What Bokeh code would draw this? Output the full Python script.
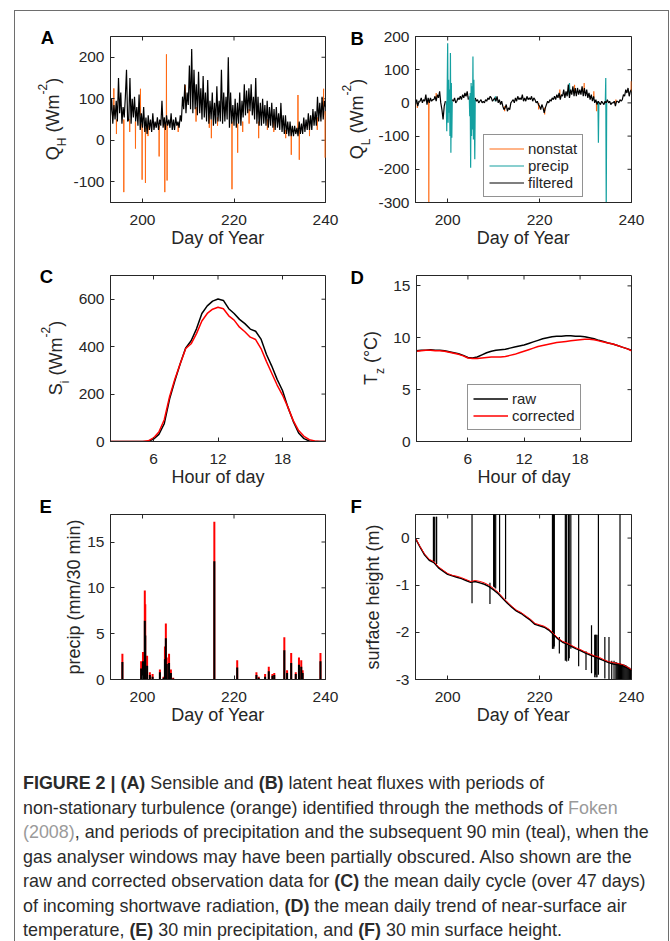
import numpy as np
from bokeh.plotting import figure
from bokeh.models import Legend, LegendItem, FixedTicker, Range1d, Div, Spacer
from bokeh.layouts import row, column
from bokeh.embed import file_html
from bokeh.resources import INLINE

FONT = "Liberation Sans"
INK = "#262626"
ORANGE = "#ff6a13"
TEAL = "#14a0a0"
RED = "#ff0000"
nan = float("nan")

# ---------------- data ----------------
# (A) sensible heat flux, filtered (W m-2), 6-hourly from day 193.00
qh_filtered = [
    60, 100, 40, 85,   50, 95, 45, 150,   65, 115, 40, 80,   55, 105, 170, 45,
    50, 150, 40, 100,  55, 105, 45, 80,   35, 110, 25, 65,   30, 80, 20, 55,
    15, 60, 25, 50,    20, 65, 25, 45,    30, 55, 25, 50,    35, 95, 30, 55,
    25, 60, 35, 50,    30, 65, 25, 50,    25, 55, 35, 45,    30, 60, 45, 105,
    75, 135, 65, 115,  85, 180, 75, 220,  65, 170, 75, 135,  60, 165, 65, 125,
    50, 155, 55, 115,  45, 145, 40, 95,   50, 115, 35, 90,   40, 130, 45, 95,
    45, 170, 40, 115,  45, 105, 50, 200,  30, 115, 40, 85,   35, 100, 30, 90,
    40, 115, 35, 95,   55, 135, 60, 120,  65, 125, 70, 135,  60, 105, 50, 150,
    40, 105, 35, 90,   35, 100, 40, 85,   35, 95, 30, 80,    35, 90, 30, 75,
    25, 80, 30, 65,    25, 90, 20, 60,    15, 60, 15, 45,    10, 45, 10, 35,
    10, 35, 15, 30,    10, 45, 15, 40,    15, 55, 20, 50,    25, 65, 25, 60,
    25, 75, 35, 70,    35, 105, 45, 90,   45, 105, 50, 95,   80]
# (A) non-stationary samples (orange spikes)
qh_nonstat_day = [193.73, 195.91, 198.46, 199.55, 199.91, 200.64, 203.63, 204.87,
                  205.23, 205.37, 209.38, 215.05, 219.56, 220.80, 225.39, 232.52,
                  233.98, 234.27, 239.58, 239.94, 194.3, 197.2, 201.2, 207.8,
                  211.7, 214.6, 216.4, 221.9, 223.3, 227.3, 228.7, 231.3, 236.5, 238.2]
qh_nonstat_val = [125, -125, -20, 124, -95, -103, -39, -125,
                  207, -97, 133, 5, -118, -30, 5, -35,
                  109, -47, 124, -42, 15, 20, 10, 20,
                  45, 30, 35, 20, 40, 25, 20, 5, 10, 25]
qh_nonstat_base = [60, 50, 45, 60, 40, 30, 35, 40,
                   50, 40, 90, 50, 45, 40, 45, 20,
                   20, 25, 60, 70, 50, 50, 35, 40,
                   80, 60, 55, 45, 75, 50, 45, 25, 40, 55]

# (B) latent heat flux, filtered (W m-2), 6-hourly from day 193.00
ql_filtered = [
    -5, 10, -10, 5,    5, 15, 0, 10,      5, 25, -5, 15,     0, 15, 5, 10,
    10, 20, 5, 25,     15, 35, 0, -20,    -50, -10, 5, nan,  nan, nan, nan, nan,
    10, 5, 15, 0,      5, 15, 10, 20,     10, 25, 15, 30,    20, 35, 10, nan,
    nan, nan, nan, nan, 15, 5, 10, 0,     5, 10, 0, 5,       0, 10, 5, 15,
    10, 20, 15, 5,     10, 15, 5, 20,     0, 10, -5, 5,      -10, -20, -15, -5,
    -25, -15, -20, 0,  5, 10, 0, 15,      5, 20, 10, 15,     10, 25, 5, 15,
    5, 20, 10, 15,     10, 20, 5, 15,     10, 0, 5, -5,      -10, -20, -5, -15,
    -30, -15, -5, 5,   0, 10, 5, 15,      10, 20, 10, 25,    15, 30, 10, 25,
    20, 40, 15, 35,    20, 55, 15, 40,    25, 50, 20, 45,    20, 45, 25, 40,
    25, 50, 20, 45,    20, 40, 15, 30,    10, 25, 5, 20,     0, 10, -5, 5,
    0, -5, 5, 0,       -5, 5, 0, 10,      0, 5, -5, 0,       0, 5, -10, 5,
    5, 0, 10, 5,       10, 25, 20, 40,    30, 45, 20, 35,    40]
ql_precip_day = [199.7, 199.8, 199.9, 200.0, 200.1, 200.2, 200.3, 200.4, 200.5, 200.6,
                 200.7, 200.8, 200.9, 201.0, nan,
                 204.7, 204.8, 204.9, 205.0, 205.1, 205.2, 205.3, 205.4, 205.5, 205.6,
                 205.7, 205.8, 205.9, 206.0, nan,
                 210.3, 210.4, 210.5, nan,
                 226.4, 226.5, 226.6, nan,
                 232.7, 232.8, 232.9, nan,
                 234.3, 234.4, 234.5, 234.6]
ql_precip_val = [5, -85, 40, 180, -60, 70, -30, 40, -100, 150,
                 -150, 60, -105, 5, nan,
                 20, -40, 30, -195, 60, -100, 50, -80, 140, -110,
                 70, -40, -170, 10, nan,
                 5, 20, 5, nan,
                 25, 60, 30, nan,
                 5, -120, 0, nan,
                 0, 75, -320, 0]
ql_nonstat_day = [193.4, 195.9, 197.5, 212.4, 219.8, 221.1, 224.4, 227.6, 229.7,
                  231.8, 232.4, 236.6, 239.95]
ql_nonstat_val = [-15, -320, 30, -25, -20, -35, 40, 55, 60, 35, -25, 10, 65]
ql_nonstat_base = [0, 10, 10, -10, 0, -15, 15, 30, 30, 15, 0, 0, 35]

# (C) mean daily cycle of incoming shortwave (W m-2), half-hourly 02:00-22:00
sw_raw = [0, 0, 0, 0, 0, 0, 0, 0, 10, 30, 75, 180, 258, 330, 395, 425, 475, 540,
          572, 592, 601, 595, 560, 540, 515, 497, 474, 465, 432, 368, 318, 262,
          215, 145, 85, 36, 12, 2, 0, 0, 0]
sw_corr = [0, 0, 0, 0, 0, 0, 0, 3, 15, 40, 92, 190, 265, 330, 392, 412, 455, 508,
           540, 558, 566, 560, 530, 512, 482, 463, 440, 430, 392, 338, 288, 238,
           196, 145, 88, 46, 22, 8, 2, 0, 0]

# (D) mean daily trend of near-surface air temperature (deg C), 00:30-23:30
t_raw = [8.75, 8.8, 8.8, 8.85, 8.8, 8.8, 8.75, 8.65, 8.55, 8.45, 8.3, 8.1, 8.05,
         8.15, 8.35, 8.55, 8.7, 8.8, 8.85, 8.9, 9.0, 9.1, 9.2, 9.3, 9.45, 9.6,
         9.75, 9.9, 10.0, 10.1, 10.15, 10.15, 10.2, 10.2, 10.15, 10.15, 10.1,
         10.0, 9.9, 9.75, 9.65, 9.5, 9.4, 9.25, 9.1, 8.95, 8.8]
t_corr = [8.7, 8.75, 8.8, 8.8, 8.75, 8.75, 8.7, 8.6, 8.5, 8.4, 8.25, 8.05, 8.0,
          8.0, 8.05, 8.1, 8.15, 8.15, 8.15, 8.2, 8.3, 8.4, 8.55, 8.7, 8.85, 9.0,
          9.15, 9.25, 9.35, 9.45, 9.55, 9.6, 9.65, 9.7, 9.75, 9.8, 9.85, 9.85,
          9.8, 9.7, 9.6, 9.5, 9.4, 9.25, 9.1, 8.95, 8.75]

# (E) 30 min precipitation (mm / 30 min)
precip_day = [195.6, 199.7, 200.1, 200.5, 200.6, 201.0, 201.6, 202.2, 203.8, 204.6,
              204.9, 205.1, 205.3, 205.8, 206.2, 206.7, 215.7, 220.7, 224.9, 225.4,
              226.8, 227.6, 228.4, 228.8, 231.0, 231.6, 232.5, 233.5, 234.2, 234.7,
              235.0, 238.9]
precip_corr = [2.8, 2.0, 3.0, 9.7, 8.2, 2.6, 0.8, 0.6, 1.1, 0.3, 3.6, 6.1, 2.4, 2.8,
               1.1, 0.2, 17.2, 2.1, 0.8, 0.3, 0.6, 1.4, 0.6, 0.7, 4.6, 1.0, 2.9, 0.8,
               2.4, 2.1, 1.0, 2.9]
precip_raw = [1.9, 1.2, 2.0, 6.4, 4.8, 1.5, 0.5, 0.3, 0.8, 0.2, 2.2, 4.5, 1.7, 1.8,
              0.7, 0.1, 12.9, 1.3, 0.5, 0.2, 0.3, 0.9, 0.4, 0.5, 3.2, 0.7, 1.8, 0.6,
              1.6, 1.4, 0.7, 2.0]

# (F) 30 min surface height (m), daily samples of the series
sfc_day = list(range(193, 241))
sfc_corr = [0.0, -0.18, -0.34, -0.45, -0.5, -0.61, -0.68, -0.75, -0.79, -0.81, -0.84,
            -0.88, -0.92, -0.9, -0.92, -0.95, -1.0, -1.07, -1.15, -1.26, -1.36, -1.45,
            -1.53, -1.58, -1.65, -1.72, -1.81, -1.84, -1.87, -1.93, -2.02, -2.12, -2.19,
            -2.23, -2.28, -2.33, -2.37, -2.42, -2.46, -2.5, -2.53, -2.58, -2.62, -2.64,
            -2.66, -2.68, -2.73, -2.79]
sfc_raw = [-0.01, -0.19, -0.36, -0.47, -0.52, -0.63, -0.7, -0.77, -0.8, -0.83, -0.86,
           -0.9, -0.94, -0.92, -0.95, -0.98, -1.03, -1.1, -1.18, -1.28, -1.38, -1.47,
           -1.55, -1.6, -1.67, -1.74, -1.83, -1.86, -1.89, -1.95, -2.04, -2.14, -2.21,
           -2.25, -2.3, -2.35, -2.39, -2.44, -2.48, -2.52, -2.56, -2.6, -2.64, -2.67,
           -2.69, -2.71, -2.75, -2.81]
# raw sensor spikes: day, upper end, lower end
sfc_spike_day = [196.9, 197.1, 197.5, 197.6, 205.3, 209.2, 210.0, 210.2, 210.45, 211.3,
                 212.6, 222.8, 222.9, 223.0, 223.1, 223.2, 224.3, 225.6, 225.75, 225.9,
                 226.3, 226.45, 226.8, 228.5, 230.1, 231.3, 232.0, 232.15, 232.3, 232.5,
                 232.8, 234.2, 235.1, 235.7, 236.2, 236.6, 236.8, 237.0, 237.2, 237.4,
                 237.5, 237.6, 237.8, 238.0, 238.2, 238.4, 238.6, 238.8, 239.0, 239.2,
                 239.4, 239.6, 239.8]
sfc_spike_top = [0.45, 0.45, 0.45, 0.45, 0.6, -0.95, 0.6, 0.6, 0.6, 0.6,
                 0.6, 0.6, 0.6, 0.6, 0.6, 0.6, -2.1, 0.6, 0.6, 0.6,
                 0.6, 0.6, 0.6, 0.6, -2.4, -1.85, -2.05, -2.05, -2.05, -2.05,
                 0.6, -2.1, -2.1, -2.6, -2.6, -2.63, -2.64, -2.65, -2.65, -2.66,
                 0.6, -2.66, -2.67, -2.67, -2.68, -2.68, -2.69, -2.7, -2.72, -2.73,
                 -2.74, -2.75, -2.77]
sfc_spike_bot = [-0.5, -0.5, -0.52, -0.55, -1.38, -1.4, -1.03, -1.05, -1.07, -1.15,
                 -1.3, -2.35, -2.35, -2.3, -2.35, -2.3, -2.45, -2.6, -2.58, -2.62,
                 -2.6, -2.55, -2.35, -2.72, -2.8, -2.87, -2.95, -2.9, -2.95, -2.95,
                 -2.9, -2.98, -3.05, -3.05, -3.05, -3.05, -3.05, -3.05, -3.05, -3.05,
                 -2.7, -3.05, -3.05, -3.05, -3.05, -3.05, -3.05, -3.05, -3.05, -3.05,
                 -3.05, -3.05, -3.05]

# ---------------- helpers ----------------
BASE = 0.8465  # baseline below the top of a 1em line box (Liberation Sans)
# rows of the figure grid: (top on page, height, top border, bottom border, frame height)
ROWS = [(11, 241, 25, 50, 166), (252, 239, 23, 50, 166), (491, 238, 23, 50, 165)]


class Strip:
    """HTML strip holding the panel letter and the (rotated) y-axis title."""

    def __init__(self, left, width, r):
        self.left, self.top, self.h, self.w = left, ROWS[r][0], ROWS[r][1], width
        self.parts = []

    def letter(self, px, base_py, t):
        x = px - self.left
        y = base_py - BASE * 18.5 - self.top
        self.parts.append(
            f'<div style="position:absolute;left:{x:.1f}px;top:{y:.1f}px;white-space:nowrap;'
            f'font:bold 18.5px/1 \'{FONT}\',Arial,sans-serif;color:#000">{t}</div>')

    def ylabel(self, html, base_px, center_py):
        x = base_px - BASE * 18 - self.left
        y = center_py - self.top
        self.parts.append(
            f'<div style="position:absolute;left:{x:.1f}px;top:{y:.1f}px;white-space:nowrap;'
            f'transform-origin:0 0;transform:rotate(-90deg) translateX(-50%);'
            f'font:18px/1 \'{FONT}\',Arial,sans-serif;color:{INK}">{html}</div>')

    def div(self):
        inner = "".join(self.parts)
        return Div(text=f'<div style="position:relative;width:{self.w}px;height:{self.h}px;'
                        f'overflow:visible">{inner}</div>',
                   width=self.w, height=self.h, margin=(0, 0, 0, 0))


def sub(t):
    return f'<span style="font-size:12px;position:relative;top:7px">{t}</span>'


def sup(t):
    return f'<span style="font-size:12px;position:relative;top:-11.7px">{t}</span>'


def make_fig(xr, yr, xt, yt, left, right, fw, r, xlabel):
    _, _, top, bottom, fh = ROWS[r]
    p = figure(frame_width=fw, frame_height=fh,
               x_range=Range1d(*xr), y_range=Range1d(*yr),
               min_border_left=left, min_border_right=right,
               min_border_top=top, min_border_bottom=bottom,
               toolbar_location=None, output_backend="svg", title=None)
    p.grid.visible = False
    p.outline_line_color = INK
    p.background_fill_color = "white"
    p.border_fill_alpha = 0
    xb = p.below[0]
    yl = p.left[0]
    xb.ticker = FixedTicker(ticks=xt)
    yl.ticker = FixedTicker(ticks=yt)
    yl.major_label_overrides = {t: f"{t:g}" for t in yt}
    for ax in (xb, yl):
        ax.axis_line_color = INK
        ax.major_tick_line_color = INK
        ax.major_tick_in = 4
        ax.major_tick_out = 0
        ax.minor_tick_line_color = None
        ax.major_label_text_font = FONT
        ax.major_label_text_font_size = "15.5px"
        ax.major_label_text_color = INK
    xb.major_label_standoff = 12
    yl.major_label_standoff = 6
    xb.axis_label = xlabel
    xb.axis_label_text_font = FONT
    xb.axis_label_text_font_size = "18px"
    xb.axis_label_text_font_style = "normal"
    xb.axis_label_text_color = INK
    xb.axis_label_standoff = 0
    # mirrored inward ticks on the top and right edges of the box
    dy = 4 * (yr[1] - yr[0]) / fh
    dx = 4 * (xr[1] - xr[0]) / fw
    p.segment(xt, [yr[1]] * len(xt), xt, [yr[1] - dy] * len(xt), line_color=INK, line_width=1)
    p.segment([xr[1]] * len(yt), yt, [xr[1] - dx] * len(yt), yt, line_color=INK, line_width=1)
    return p


def spikes(days, vals, bases, half=0.03):
    xs = [[d - half, d, d + half] for d in days]
    ys = [[b, v, b] for v, b in zip(vals, bases)]
    return xs, ys


def style_legend(leg):
    leg.label_text_font = FONT
    leg.label_text_font_size = "15px"
    leg.label_text_color = INK
    leg.glyph_width = 35
    leg.glyph_height = 17
    leg.label_height = 17
    leg.label_standoff = 4
    leg.spacing = 0
    leg.padding = 5
    leg.margin = 0
    leg.border_line_color = INK
    leg.border_line_width = 1
    leg.background_fill_alpha = 1


# ---------------- row 1: (A) and (B) ----------------
sA = Strip(15, 53, 0)
sA.letter(40.7, 45, "A")
sA.ylabel(f"Q{sub('H')} (Wm{sup('-2')})", 59.6, 119)

pA = make_fig((193, 240), (-150, 250), [200, 220, 240], [-100, 0, 100, 200],
              42, 14, 215, 0, "Day of Year")
qh_days = 193 + 0.25 * np.arange(len(qh_filtered))
xs, ys = spikes(qh_nonstat_day, qh_nonstat_val, qh_nonstat_base)
pA.multi_line(xs, ys, line_color=ORANGE, line_width=1)
pA.line(qh_days, qh_filtered, line_color="black", line_width=1.2)

sB = Strip(339, 34, 0)
sB.letter(350.4, 46, "B")
sB.ylabel(f"Q{sub('L')} (Wm{sup('-2')})", 362.9, 119)

pB = make_fig((193, 240), (-300, 200), [200, 220, 240], [-300, -200, -100, 0, 100, 200],
              42, 37, 216, 0, "Day of Year")
ql_days = 193 + 0.25 * np.arange(len(ql_filtered))
xs, ys = spikes(ql_nonstat_day, ql_nonstat_val, ql_nonstat_base)
rO = pB.multi_line(xs, ys, line_color=ORANGE, line_width=1.2)
rT = pB.line(ql_precip_day, ql_precip_val, line_color=TEAL, line_width=1.2)
rK = pB.line(ql_days, ql_filtered, line_color="black", line_width=1.2)
legB = Legend(items=[LegendItem(label="nonstat", renderers=[rO]),
                     LegendItem(label="precip", renderers=[rT]),
                     LegendItem(label="filtered", renderers=[rK])],
              location=(68, 5))
style_legend(legB)
pB.add_layout(legB)

# ---------------- row 2: (C) and (D) ----------------
sC = Strip(15, 57, 1)
sC.letter(39.8, 283.5, "C")
sC.ylabel(f"S{sub('i')} (Wm{sup('-2')})", 62.2, 358)

pC = make_fig((2, 22), (0, 700), [6, 12, 18], [0, 200, 400, 600],
              38, 14, 215, 1, "Hour of day")
hours_c = 2 + 0.5 * np.arange(len(sw_raw))
pC.line(hours_c, sw_raw, line_color="black", line_width=1.5)
pC.line(hours_c, sw_corr, line_color=RED, line_width=1.5)

sD = Strip(339, 47, 1)
sD.letter(350.4, 284.3, "D")
sD.ylabel(f"T{sub('z')} (°C)", 377.2, 358)

pD = make_fig((0.5, 23.5), (0, 16), [6, 12, 18], [0, 5, 10, 15],
              30, 37, 215, 1, "Hour of day")
hours_d = 0.5 + 0.5 * np.arange(len(t_raw))
rR = pD.line(hours_d, t_raw, line_color="black", line_width=1.5)
rC = pD.line(hours_d, t_corr, line_color=RED, line_width=1.5)
legD = Legend(items=[LegendItem(label="raw", renderers=[rR]),
                     LegendItem(label="corrected", renderers=[rC])],
              location=(51, 11))
style_legend(legD)
pD.add_layout(legD)

# ---------------- row 3: (E) and (F) ----------------
sE = Strip(15, 66, 2)
sE.letter(39.4, 513.3, "E")
sE.ylabel("precip (mm/30 min)", 80, 596.5)

pE = make_fig((193, 240), (0, 18), [200, 220, 240], [0, 5, 10, 15],
              29, 14, 215, 2, "Day of Year")
pE.segment(precip_day, [0] * len(precip_day), precip_day, precip_corr, line_color=RED, line_width=2)
pE.segment(precip_day, [0] * len(precip_day), precip_day, precip_raw, line_color="black", line_width=2)

sF = Strip(339, 49, 2)
sF.letter(350.4, 513.3, "F")
sF.ylabel("surface height (m)", 379, 596.5)

pF = make_fig((193, 240), (-3, 0.5), [200, 220, 240], [-3, -2, -1, 0],
              27, 37, 216, 2, "Day of Year")
pF.segment(sfc_spike_day, sfc_spike_top, sfc_spike_day, sfc_spike_bot, line_color="black", line_width=1.2)
pF.line(sfc_day, sfc_raw, line_color="black", line_width=1.5)
pF.line(sfc_day, sfc_corr, line_color=RED, line_width=1)

# ---------------- caption ----------------
G = 'style="color:#9a9a9a"'
cap_html = (
    '<div style="font-family:\'Liberation Sans\',Arial,sans-serif;font-size:17.9px;'
    'line-height:24.5px;color:#2b2b2b;padding:42px 0 0 8px;white-space:nowrap;">'
    '<b>FIGURE 2 | (A)</b> Sensible and <b>(B)</b> latent heat fluxes with periods of<br>'
    'non-stationary turbulence (orange) identified through the methods of '
    f'<span {G}>Foken</span><br>'
    f'<span {G}>(2008)</span>, and periods of precipitation and the subsequent 90 min (teal), when the<br>'
    'gas analyser windows may have been partially obscured. Also shown are the<br>'
    'raw and corrected observation data for <b>(C)</b> the mean daily cycle (over 47 days)<br>'
    'of incoming shortwave radiation, <b>(D)</b> the mean daily trend of near-surface air<br>'
    'temperature, <b>(E)</b> 30 min precipitation, and <b>(F)</b> 30 min surface height.'
    '</div>')
cap = Div(text=cap_html, width=653, height=212, margin=(0, 0, 0, 0))

BORDER = "1px solid #6e6e6e"
framed = column(row(sA.div(), pA, sB.div(), pB), row(sC.div(), pC, sD.div(), pD),
                row(sE.div(), pE, sF.div(), pF), cap,
                styles={"border-left": BORDER, "border-top": BORDER, "border-right": BORDER})
root = column(Spacer(height=10), row(Spacer(width=14), framed))

open("out.html", "w").write(file_html(root, INLINE))
